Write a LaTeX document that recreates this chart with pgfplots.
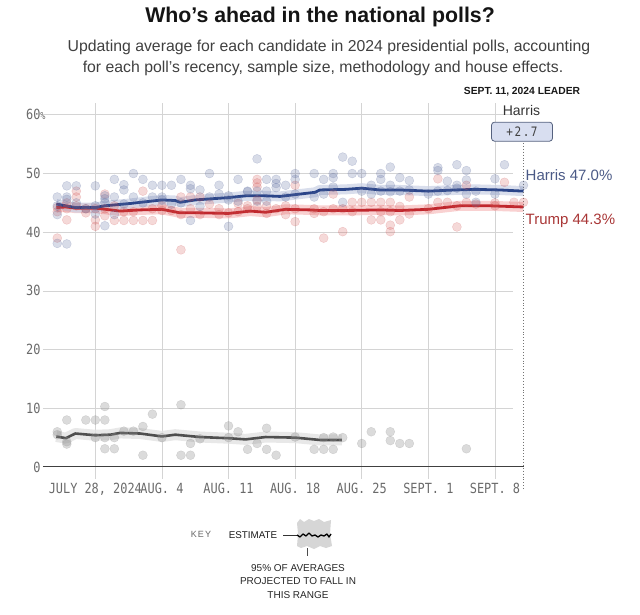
\documentclass[border=0pt]{standalone}
\usepackage{pgfplots}
\pgfplotsset{compat=1.18}
\usepackage{fontspec}
\setmainfont{Liberation Sans}
\newfontfamily\monofont{DejaVu Sans Mono}[FakeStretch=0.85]
\definecolor{harris}{HTML}{2B4589}
\definecolor{harrisdot}{HTML}{5B6B9E}
\definecolor{harrisband}{HTML}{C9D0E4}
\definecolor{harristext}{HTML}{4B5A86}
\definecolor{trump}{HTML}{C0272D}
\definecolor{trumpdot}{HTML}{D0504F}
\definecolor{trumpband}{HTML}{F6BDBD}
\definecolor{trumptext}{HTML}{A93636}
\definecolor{rfk}{HTML}{4F4F4F}
\definecolor{rfkdot}{HTML}{909090}
\definecolor{rfkband}{HTML}{E2E2E2}
\definecolor{gridc}{HTML}{D4D4D4}
\definecolor{tickc}{HTML}{6A6A6A}
\definecolor{boxfill}{HTML}{D8DEF0}
\definecolor{boxdraw}{HTML}{56627F}

\pgfplotstableread{
d v
-4 46.0
-4 43.0
-4 38.1
-4 44.5
-3 47.9
-3 46.0
-3 45.6
-3 38.0
-2 47.9
-2 45.0
-1 44.0
0 47.9
0 43.1
0 44.5
1 46.2
1 45.7
1 45.1
1 41.1
2 49.0
2 46.0
2 43.0
3 48.1
3 47.2
3 44.8
4 50.0
4 46.0
5 49.0
5 45.0
6 48.0
6 46.0
7 48.0
7 46.0
7 45.5
8 48.0
8 44.8
9 49.0
9 45.0
10 48.0
10 47.4
10 42.0
11 47.2
11 44.4
12 50.0
12 46.0
13 48.0
13 46.5
14 46.2
14 45.5
14 41.0
15 49.0
15 45.3
16 47.0
16 46.9
17 52.5
17 47.0
17 45.3
18 49.0
18 47.0
18 45.3
19 49.0
19 48.3
19 47.6
20 48.0
20 46.0
21 50.0
21 49.0
21 46.5
23 50.0
23 46.0
24 49.0
24 46.5
25 50.0
25 49.3
25 47.7
26 52.8
26 45.1
27 52.1
27 50.0
28 50.0
28 47.0
29 48.0
29 46.5
30 50.0
30 49.0
30 47.0
31 51.1
31 48.0
31 46.9
32 49.3
32 47.0
33 48.8
33 47.2
35 46.5
36 51.0
36 50.5
36 47.0
37 48.7
37 47.1
38 51.5
38 48.0
38 47.5
39 50.5
39 48.9
39 46.5
40 45.1
40 47.0
42 49.1
42 46.5
43 51.5
45 48.0
}\harrisdots

\pgfplotstableread{
d v
-4 44.2
-4 39.0
-4 43.5
-3 44.0
-3 42.1
-3 45.0
-2 47.0
-2 46.0
-2 44.5
-1 43.3
-1 44.0
0 44.0
0 42.1
0 41.0
1 46.5
1 44.0
1 42.8
2 42.0
2 44.5
3 42.0
3 43.5
4 43.5
4 42.0
5 47.0
5 42.0
6 44.0
6 42.0
7 43.7
7 44.5
8 43.7
9 46.0
9 43.0
9 37.0
10 46.0
10 44.0
11 46.0
11 43.0
12 44.8
13 44.0
13 43.0
14 43.3
15 44.9
15 43.5
16 44.5
16 44.0
17 49.0
17 48.4
17 47.7
17 45.5
17 44.4
18 43.2
18 44.5
19 44.0
20 44.5
20 43.0
21 48.0
21 44.0
21 41.8
23 43.2
23 44.0
24 39.0
24 43.5
25 46.5
25 44.0
26 40.1
26 44.0
27 45.1
27 43.5
28 45.1
29 45.1
29 42.1
30 45.1
30 43.5
30 42.1
31 45.1
31 43.5
31 41.2
31 40.1
32 44.4
32 42.1
33 46.0
33 43.1
35 44.0
36 49.1
36 45.1
37 45.1
38 40.9
38 44.5
39 48.0
39 45.1
40 44.8
42 45.0
42 44.5
43 48.5
44 45.1
45 45.1
}\trumpdots

\pgfplotstableread{
d v
-4 6.0
-4 5.5
-3 8.0
-3 4.3
-3 3.9
-1 8.0
0 8.0
0 5.0
1 10.3
1 8.0
1 5.0
1 3.1
2 5.0
2 3.1
3 6.1
4 6.1
5 6.9
5 2.0
6 9.0
7 5.0
9 10.6
9 2.0
10 4.0
10 2.0
11 4.8
14 7.0
14 5.0
15 6.0
16 3.0
17 4.0
18 6.6
18 3.0
19 2.0
21 5.1
23 3.0
24 5.0
24 3.0
25 5.1
25 3.0
26 5.0
28 4.0
29 6.0
31 6.0
31 4.5
32 4.0
33 4.0
39 3.1
}\rfkdots

\pgfplotstableread{
d v
-4.1 44.8
-3.1 44.5
-2.1 44.2
0 44.2
1.0 44.5
3.7 44.9
7.0 45.5
8.4 45.4
8.9 45.1
10.5 45.5
14.0 45.9
15.8 46.2
17.9 46.2
19.4 46.1
21.5 46.5
23.1 46.8
23.6 47.2
26.3 47.3
28.0 47.5
29.9 47.2
32.0 47.2
35.0 47.0
37.8 47.2
39.9 47.3
42.5 47.2
45.0 47.0
}\harrisline

\pgfplotstableread{
d v
-4.1 44.2
-3.1 44.3
-2.1 44.1
0 44.1
1.6 43.8
2.6 43.6
4.7 43.8
7.0 43.9
8.9 43.3
11.0 43.3
14.0 43.2
16.3 43.6
17.9 43.4
20.0 43.9
22.6 43.8
23.6 43.7
26.3 43.7
29.9 43.8
32.0 43.7
35.0 43.9
38.3 44.5
41.5 44.5
45.0 44.3
}\trumpline

\pgfplotstableread{
d v
-4.1 5.2
-3.1 4.9
-2.1 5.7
0 5.4
1.6 5.5
2.6 5.8
4.7 5.7
7.0 5.2
8.4 5.5
11.0 5.1
14.0 4.9
15.8 4.7
17.9 5.1
21.0 5.0
23.6 4.6
25.9 4.6
}\rfkline

\begin{document}
\begin{tikzpicture}
\path[use as bounding box] (0pt,0pt) rectangle (640pt,614pt);
\begin{axis}[
  at={(43pt,135.3pt)}, anchor=south west,
  scale only axis, width=480.5pt, height=375.6pt,
  xmin=-5.5, xmax=45, ymin=-2, ymax=62,
  clip=false,
  axis line style={draw=none},
  major tick length=0pt,
  xtick={0,7,14,21,28,35,42},
  xticklabels={{JULY 28, 2024},{AUG. 4},{AUG. 11},{AUG. 18},{AUG. 25},{SEPT. 1},{SEPT. 8}},
  ytick={0,10,20,30,40,50,60},
  yticklabels={0,10,20,30,40,50,{60\rlap{\fontsize{10}{10}\selectfont\%}}},
  xmajorgrids,
  grid style={gridc, line width=0.7pt},
  tick label style={font=\monofont\fontsize{14}{14}\selectfont, text=tickc},
  xticklabel style={yshift=-1pt},
  yticklabel style={xshift=1pt},
]
\pgfplotsinvokeforeach{10,20,30,40,50,60}{
  \draw[gridc, line width=0.7pt] (axis cs:-5.5,#1) -- (axis cs:43.9,#1);
}
\draw[black!75, line width=1pt] (axis cs:-5.5,0) -- (axis cs:45,0);

\addplot[only marks, mark=*, mark size=4.5pt,
  mark options={fill=rfkdot, draw=rfkdot, fill opacity=0.32, draw opacity=0.3}] table[x=d,y=v] {\rfkdots};
\addplot[only marks, mark=*, mark size=4.5pt,
  mark options={fill=trumpdot, draw=trumpdot, fill opacity=0.22, draw opacity=0.25}] table[x=d,y=v] {\trumpdots};
\addplot[only marks, mark=*, mark size=4.5pt,
  mark options={fill=harrisdot, draw=harrisdot, fill opacity=0.24, draw opacity=0.27}] table[x=d,y=v] {\harrisdots};

\addplot[no marks, rfkband, opacity=0.8, line width=11pt, line join=round] table[x=d,y=v] {\rfkline};
\addplot[no marks, trumpband, opacity=0.7, line width=10pt, line join=round] table[x=d,y=v] {\trumpline};
\addplot[no marks, harrisband, opacity=0.7, line width=10pt, line join=round] table[x=d,y=v] {\harrisline};

\addplot[no marks, rfk, line width=2.6pt, line join=round] table[x=d,y=v] {\rfkline};
\addplot[no marks, trump, line width=2.8pt, line join=round] table[x=d,y=v] {\trumpline};
\addplot[no marks, harris, line width=2.8pt, line join=round] table[x=d,y=v] {\harrisline};

\draw[black!55, line width=0.9pt, dotted] (axis cs:45,55.2) -- (axis cs:45,-3.9);
\end{axis}

% titles
\node[font=\bfseries\fontsize{21.3}{21.3}\selectfont, text=black!92] at (320pt,597pt) {Who’s ahead in the national polls?};
\node[font=\fontsize{15.8}{15.8}\selectfont, text=black!75] at (329pt,567pt) {Updating average for each candidate in 2024 presidential polls, accounting};
\node[font=\fontsize{15.8}{15.8}\selectfont, text=black!75] at (323pt,546pt) {for each poll’s recency, sample size, methodology and house effects.};

% leader
\node[font=\bfseries\fontsize{10.3}{10.3}\selectfont, text=black!90] at (522pt,522pt) {SEPT. 11, 2024 LEADER};
\node[font=\fontsize{14}{14}\selectfont, text=black!80] at (521.5pt,504pt) {Harris};
\node[draw=boxdraw, fill=boxfill, line width=0.8pt, rounded corners=3pt,
      minimum width=61pt, minimum height=19pt, inner sep=0pt,
      font=\monofont\fontsize{13}{13}\selectfont\addfontfeature{LetterSpace=12}, text=black!75] at (522pt,482.3pt) {+2.7};

\node[anchor=west, font=\fontsize{15}{15}\selectfont, text=harristext, inner sep=0pt] at (525.5pt,439pt) {Harris 47.0\%};
\node[anchor=west, font=\fontsize{15}{15}\selectfont, text=trumptext, inner sep=0pt] at (525.5pt,393pt) {Trump 44.3\%};

% key
\node[font=\fontsize{9}{9}\selectfont\addfontfeature{LetterSpace=12}, text=black!60] at (201pt,80pt) {KEY};
\node[font=\fontsize{9.8}{9.8}\selectfont, text=black!90] at (253pt,79pt) {ESTIMATE};
\fill[black!16] (297pt,91pt) -- (300pt,95pt) -- (304pt,92pt) -- (309pt,95pt) -- (314pt,93pt) -- (319pt,95pt) -- (324pt,92pt) -- (331pt,94pt)
  -- (330pt,80pt) -- (332pt,68pt) -- (326pt,66pt) -- (320pt,68pt) -- (314pt,65pt) -- (307pt,68pt) -- (301pt,66pt) -- (297pt,68pt) -- (298pt,80pt) -- cycle;
\draw[black!80, line width=0.8pt] (283pt,79pt) -- (297pt,79pt);
\draw[black, line width=1.3pt, line join=round] (297pt,79pt) -- (300pt,77pt) -- (303pt,80pt) -- (306pt,78pt) -- (309pt,81pt) -- (312pt,78pt) -- (315pt,79pt) -- (318pt,77pt) -- (321pt,79pt) -- (324pt,78pt) -- (327pt,80pt) -- (329pt,77pt) -- (331pt,80pt);
\draw[black!70, line width=1pt] (307pt,66pt) -- (307pt,58pt);
\node[font=\fontsize{10}{10}\selectfont, text=black!85] at (298pt,46pt) {95\% OF AVERAGES};
\node[font=\fontsize{10}{10}\selectfont, text=black!85] at (298pt,33pt) {PROJECTED TO FALL IN};
\node[font=\fontsize{10}{10}\selectfont, text=black!85] at (298pt,19pt) {THIS RANGE};
\end{tikzpicture}
\end{document}
